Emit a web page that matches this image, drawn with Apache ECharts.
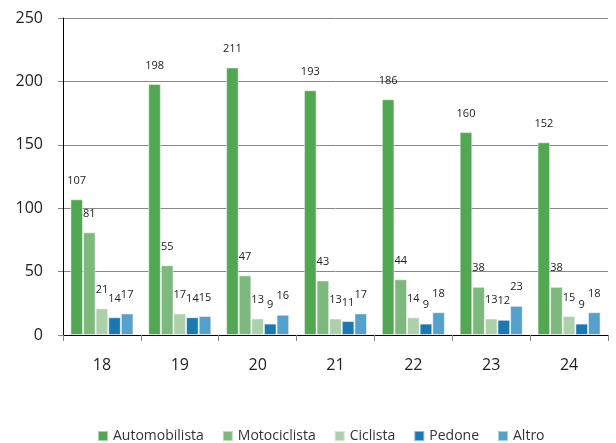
<!DOCTYPE html>
<html><head><meta charset="utf-8">
<script src="https://cdn.jsdelivr.net/npm/echarts@6/dist/echarts.min.js"></script>
<style>html,body{margin:0;padding:0;background:#fff}#c{width:616px;height:443px}</style>
</head><body><div id="c"></div>
<script>
var categories = ['18','19','20','21','22','23','24'];
var seriesNames = ['Automobilista','Motociclista','Ciclista','Pedone','Altro'];
var automobilista = [107,198,211,193,186,160,152];
var motociclista = [81,55,47,43,44,38,38];
var ciclista = [21,17,13,13,14,13,15];
var pedone = [14,14,9,11,9,12,9];
var altro = [17,15,16,17,18,23,18];
var yTicks = [0,50,100,150,200,250];
var colors = ['#52a852','#7db97c','#abd0aa','#1a79b0','#56a1cb'];
var values = [automobilista, motociclista, ciclista, pedone, altro];
var font = '"Open Sans", sans-serif';
var chart = echarts.init(document.getElementById('c'));
chart.setOption({
  animation:false,
  color:colors,
  grid:{left:63,right:8,top:18,bottom:108,containLabel:false},
  legend:{top:424,left:92,itemWidth:10,itemHeight:10,itemGap:18,icon:'rect',
    textStyle:{fontFamily:font,fontSize:14,color:'#333'}},
  xAxis:{type:'category',data:categories,
    axisLine:{lineStyle:{color:'#000',width:1}},
    axisTick:{show:true,alignWithLabel:false,length:6,lineStyle:{color:'#888'}},
    axisLabel:{fontFamily:font,fontSize:16,color:'#222',margin:22}},
  yAxis:{type:'value',min:0,max:250,interval:50,
    axisLine:{show:true,lineStyle:{color:'#000'}},
    axisTick:{show:true,length:5,lineStyle:{color:'#888'}},
    splitLine:{lineStyle:{color:'#888',width:1}},
    axisLabel:{fontFamily:font,fontSize:16,color:'#222',margin:20,
      formatter:function(v){return yTicks.indexOf(v)>=0?String(v):'';}}},
  series: seriesNames.map(function(n,i){
    return {name:n,type:'bar',data:values[i],barGap:'0%',barCategoryGap:'19%',
      itemStyle:{borderColor:'rgba(255,255,255,0.5)',borderWidth:1},
      label:{show:true,position:'top',distance:13,fontFamily:font,fontSize:11,color:'#222'}};
  })
});
</script></body></html>
